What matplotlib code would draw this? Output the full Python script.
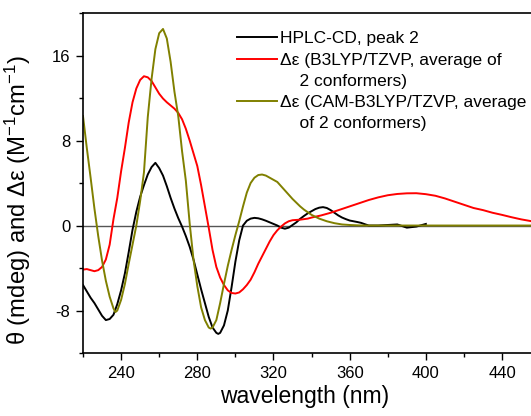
import matplotlib
matplotlib.use("Agg")
import matplotlib.pyplot as plt
from matplotlib.lines import Line2D
from matplotlib.ticker import MultipleLocator

plt.rcParams['font.family'] = ['Liberation Sans', 'DejaVu Sans']
plt.rcParams['mathtext.fontset'] = 'custom'
plt.rcParams['mathtext.rm'] = 'Liberation Sans'
plt.rcParams['mathtext.it'] = 'Liberation Sans'
plt.rcParams['axes.unicode_minus'] = False

# HPLC-CD, peak 2
wl_exp = [220, 222, 224, 226, 228, 230, 232, 234, 236, 238, 240, 242, 244, 246,
          248, 250, 252, 254, 256, 258, 260, 262, 264, 266, 268, 270, 272, 274,
          276, 278, 280, 282, 284, 286, 288, 290, 291, 292, 294, 296, 298, 300,
          302, 304, 306, 308, 310, 312, 314, 316, 318, 320, 322, 324, 326, 328,
          330, 332, 334, 336, 338, 340, 342, 344, 346, 348, 350, 352, 354, 356,
          358, 360, 362, 364, 366, 368, 370, 375, 380, 385, 390, 395, 400]
cd_exp = [-5.6, -6.2, -6.8, -7.3, -7.9, -8.5, -8.9, -8.8, -8.4, -7.4, -6.1, -4.5,
          -2.5, -0.4, 1.3, 2.7, 3.8, 4.8, 5.5, 5.9, 5.4, 4.7, 3.7, 2.6, 1.6, 0.7,
          -0.1, -1.0, -2.0, -3.2, -4.6, -6.0, -7.3, -8.6, -9.6, -10.1, -10.2,
          -10.1, -9.4, -8.0, -5.8, -3.4, -1.4, 0.0, 0.45, 0.65, 0.72, 0.68, 0.58,
          0.45, 0.3, 0.15, 0.0, -0.2, -0.3, -0.2, 0.05, 0.3, 0.63, 0.9, 1.15,
          1.35, 1.55, 1.68, 1.73, 1.65, 1.45, 1.2, 0.95, 0.75, 0.6, 0.47, 0.4,
          0.33, 0.25, 0.12, 0.0, 0.0, 0.05, 0.1, -0.2, -0.1, 0.15]

# B3LYP/TZVP
wl_b3 = [220, 222, 224, 226, 228, 230, 232, 234, 236, 238, 240, 242, 244, 246,
         248, 250, 252, 254, 256, 258, 260, 262, 264, 266, 268, 270, 272, 274,
         276, 278, 280, 282, 284, 286, 288, 290, 292, 294, 296, 298, 300, 302,
         304, 306, 308, 310, 312, 314, 316, 318, 320, 322, 324, 326, 328, 330,
         334, 338, 340, 345, 350, 355, 360, 365, 370, 375, 380, 385, 390, 395,
         400, 405, 410, 415, 420, 425, 430, 435, 440, 445, 450, 455]
de_b3 = [-4.15, -4.1, -4.2, -4.3, -4.2, -3.9, -3.2, -1.8, 0.6, 2.6, 5.1, 7.3, 9.7,
         11.6, 12.9, 13.7, 14.05, 13.95, 13.6, 13.0, 12.4, 11.95, 11.6, 11.3,
         11.0, 10.6, 10.0, 9.1, 8.0, 6.8, 5.6, 3.8, 1.8, -0.2, -2.3, -3.9, -4.9,
         -5.6, -6.1, -6.35, -6.4, -6.3, -6.0, -5.6, -5.1, -4.4, -3.6, -2.9, -2.2,
         -1.5, -0.9, -0.45, -0.1, 0.2, 0.4, 0.5, 0.55, 0.65, 0.75, 0.95, 1.2, 1.5,
         1.8, 2.1, 2.4, 2.65, 2.85, 2.97, 3.03, 3.04, 2.95, 2.8, 2.55, 2.25,
         1.95, 1.65, 1.45, 1.2, 1.0, 0.78, 0.58, 0.42]

# CAM-B3LYP/TZVP
wl_cam = [220, 222, 224, 226, 228, 230, 232, 234, 236, 237, 238, 240, 242, 244,
          246, 248, 250, 252, 254, 256, 258, 260, 262, 264, 266, 268, 270, 272,
          274, 276, 278, 280, 282, 284, 286, 287, 288, 290, 292, 294, 296, 298,
          300, 302, 304, 306, 308, 310, 312, 314, 316, 318, 320, 322, 324, 326,
          328, 330, 332, 334, 336, 338, 340, 344, 348, 352, 356, 360, 365, 370,
          380, 400, 455]
de_cam = [10.3, 7.3, 4.5, 1.6, -1.0, -3.3, -5.2, -6.7, -7.8, -8.15, -8.0, -7.0,
          -5.5, -3.6, -1.8, 0.0, 2.3, 5.0, 10.2, 13.8, 16.6, 18.1, 18.5, 17.6,
          15.4, 12.6, 10.3, 7.0, 4.2, 0.2, -3.2, -5.7, -7.7, -8.9, -9.6, -9.7,
          -9.6, -8.9, -7.3, -5.5, -3.8, -2.3, -0.9, 0.4, 1.8, 3.1, 4.0, 4.5, 4.75,
          4.8, 4.7, 4.5, 4.3, 4.1, 3.7, 3.3, 2.9, 2.5, 2.15, 1.8, 1.5, 1.25, 1.0,
          0.65, 0.4, 0.22, 0.1, 0.05, 0.01, 0.0, 0.0, 0.0, 0.0]

labels = ["HPLC-CD, peak 2",
          "\u0394\u03b5 (B3LYP/TZVP, average of",
          "    2 conformers)",
          "\u0394\u03b5 (CAM-B3LYP/TZVP, average",
          "    of 2 conformers)"]

olive = "#808000"


def main():
    fig = plt.figure(figsize=(5.31, 4.16), dpi=100)
    ax = fig.add_axes([0.1563, 0.1514, 0.861, 0.8173])

    ax.axhline(0, color="#555555", lw=1.0, zorder=1)
    ax.plot(wl_exp, cd_exp, color="black", lw=1.4)
    ax.plot(wl_b3, de_b3, color="red", lw=1.4)
    ax.plot(wl_cam, de_cam, color=olive, lw=1.4)

    ax.set_xlim(220, 460)
    ax.set_ylim(-12, 20)
    ax.xaxis.set_minor_locator(MultipleLocator(20))
    ax.yaxis.set_minor_locator(MultipleLocator(4))
    ax.set_xticks([240, 280, 320, 360, 400, 440])
    ax.set_yticks([-8, 0, 8, 16])
    ax.tick_params(which="both", direction="out", labelsize=12, width=1)
    ax.tick_params(which="major", length=5, pad=4)
    ax.tick_params(which="minor", length=3)
    for s in ax.spines.values():
        s.set_linewidth(1.2)

    ax.set_xlabel("wavelength (nm)", fontsize=16.5)
    ax.xaxis.set_label_coords(0.484, -0.095)
    ax.set_ylabel(r"θ (mdeg) and Δε (M$^{-1}$cm$^{-1}$)", fontsize=17.2)
    ax.yaxis.set_label_coords(-0.11, 0.45)

    blank = Line2D([], [], color="none")
    handles = [Line2D([], [], color="black", lw=1.4),
               Line2D([], [], color="red", lw=1.4),
               blank,
               Line2D([], [], color=olive, lw=1.4),
               blank]
    fig.legend(handles, labels, loc="upper left", bbox_to_anchor=(0.447, 0.925),
               frameon=False, fontsize=12.5, handlelength=2.3, handletextpad=0.15,
               labelspacing=0.35, borderpad=0, borderaxespad=0)

    fig.savefig("out.png", dpi=100)


if __name__ == "__main__":
    main()
